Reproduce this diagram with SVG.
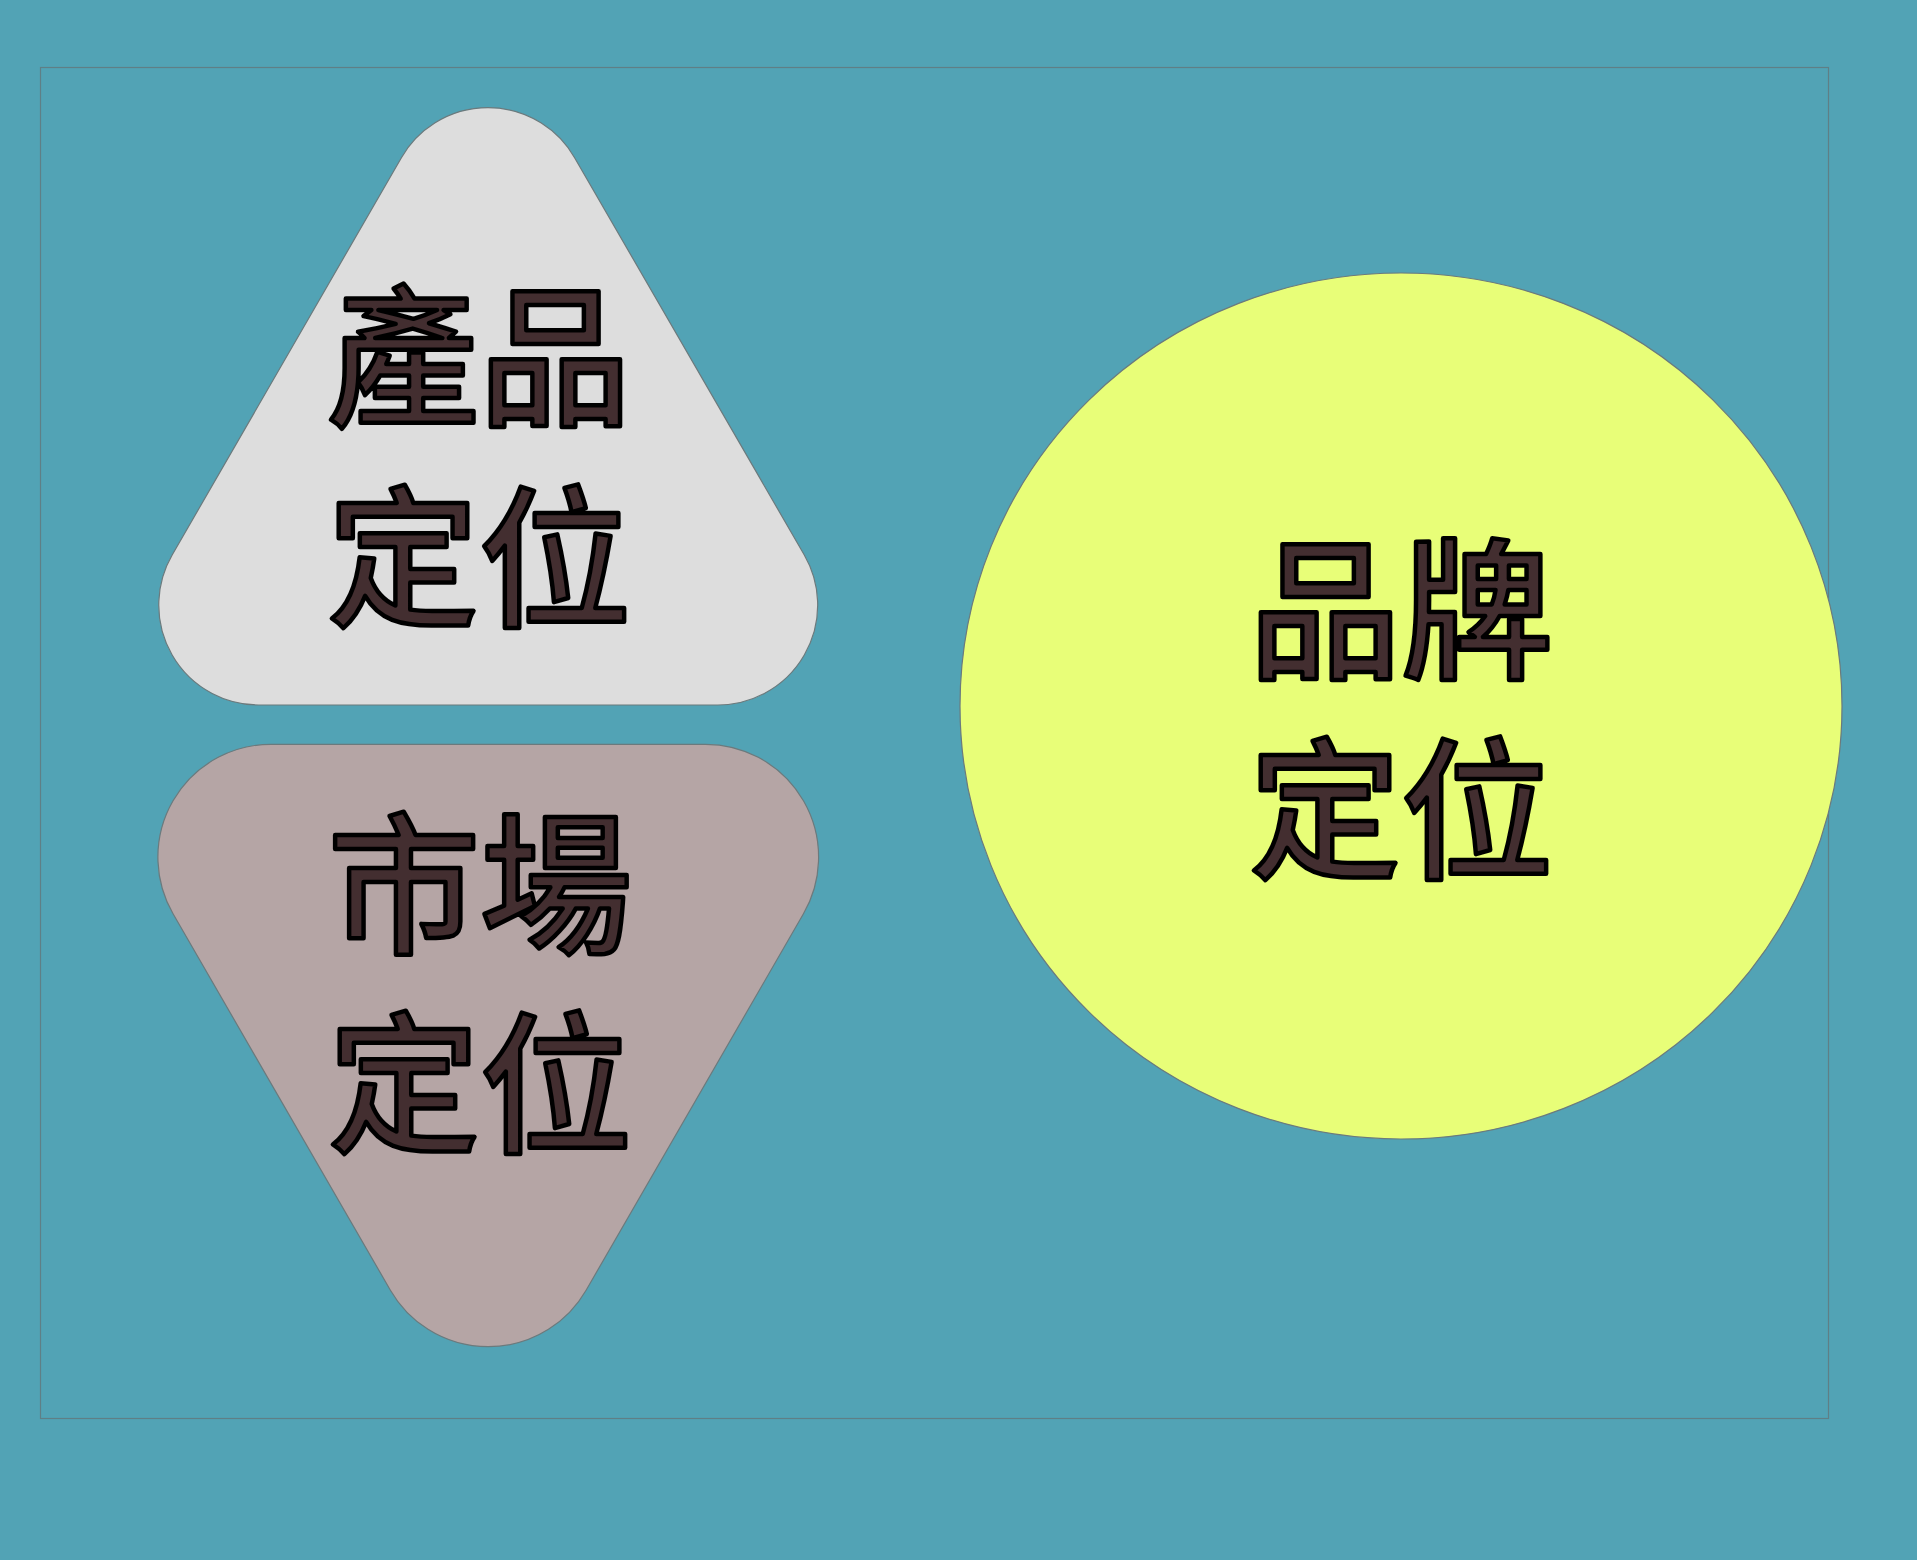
<svg xmlns="http://www.w3.org/2000/svg" width="1917" height="1560" viewBox="0 0 1917 1560">
  <style>
    .shape { stroke: #6b7a7d; stroke-width: 1.2; }
    .label { font-family: "Noto Sans CJK TC", "Noto Sans CJK SC", sans-serif; font-weight: 500; font-size: 152px; fill: #432e30; stroke: #000; stroke-width: 4.5; stroke-linejoin: round; text-anchor: middle; }
  </style>
  <rect x="0" y="0" width="1917" height="1560" fill="#52a3b5"/>
  <rect x="40.5" y="67.5" width="1788" height="1351" fill="none" stroke="#5f7f86" stroke-width="1.2"/>
  <g id="product">
    <path class="shape" fill="#dddddd" d="M 401.4 157.7 A 100 100 0 0 1 574.6 157.7 L 804.3 555 A 100 100 0 0 1 717.7 705 L 258.75 705 A 100 100 0 0 1 172.15 555 Z"/>
    <text class="label" x="479" y="414">產品</text>
    <text class="label" x="479" y="615">定位</text>
  </g>
  <g id="market">
    <path class="shape" fill="#b5a5a5" d="M 270.9 744.3 L 705.6 744.3 A 113 113 0 0 1 803.46 913.8 L 586.11 1290.2 A 113 113 0 0 1 390.39 1290.2 L 173.04 913.8 A 113 113 0 0 1 270.9 744.3 Z"/>
    <text class="label" x="480" y="942">市場</text>
    <text class="label" x="480" y="1141">定位</text>
  </g>
  <g id="brand">
    <ellipse class="shape" fill="#e8fe78" cx="1401" cy="706" rx="441" ry="433"/>
    <text class="label" x="1401" y="667">品牌</text>
    <text class="label" x="1401" y="867">定位</text>
  </g>
  <g id="connectors"></g>
</svg>
